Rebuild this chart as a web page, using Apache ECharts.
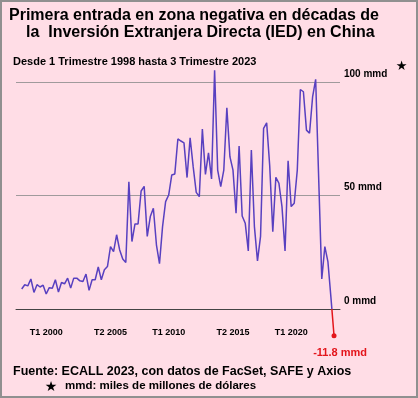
<!DOCTYPE html>
<html>
<head>
<meta charset="utf-8">
<script src="https://cdn.jsdelivr.net/npm/echarts@6/dist/echarts.min.js"></script>
<style>
html,body{margin:0;padding:0;background:#ffdde6;}
#wrap{position:relative;width:418px;height:398px;}
#chart{position:absolute;left:0;top:0;width:418px;height:398px;}
#frame{position:absolute;left:0;top:0;width:418px;height:398px;box-sizing:border-box;border:2px solid #909090;pointer-events:none;}
</style>
</head>
<body>
<div id="wrap"><div id="chart"></div><div id="frame"></div></div>
<script>
// Quarterly FDI into China (billions USD), Q1 1998 .. Q3 2023
const startYear = 1998;
const fdiValues = [
  8.8, 10.7, 10.2, 13.2, 7.3, 10.7, 9.7, 10.5, 6.6, 9.4,
  9.1, 12.9, 7.5, 11.7, 11.1, 13.6, 9.2, 13.6, 13.6, 12.4,
  12.1, 15.4, 8.2, 12.9, 12.9, 18.5, 12.9, 17.3, 18.7, 27.5,
  25.3, 32.7, 26.0, 22.0, 20.5, 56.0, 29.7, 37.5, 37.5, 52.0,
  54.0, 32.0, 40.7, 44.4, 28.3, 20.0, 36.3, 47.3, 50.2, 59.0,
  59.5, 74.9, 74.0, 73.2, 57.9, 75.4, 62.7, 51.4, 49.5, 79.3,
  59.3, 68.8, 57.3, 105.2, 61.2, 53.9, 61.2, 88.6, 67.1, 61.2,
  42.2, 71.8, 41.0, 37.8, 25.6, 70.0, 36.3, 21.2, 32.0, 79.6,
  82.0, 63.0, 34.1, 58.0, 55.4, 45.1, 25.6, 65.3, 45.1, 46.6,
  61.2, 96.7, 95.7, 78.8, 77.4, 93.4, 101.2, 57.0, 13.2, 27.5,
  20.9, 4.9, -11.8
];
const quarterLabels = fdiValues.map((v, i) => 'T' + (i % 4 + 1) + ' ' + (startYear + Math.floor(i / 4)));
const xTickLabels = ['T1 2000', 'T2 2005', 'T1 2010', 'T2 2015', 'T1 2020'];
const yTickValues = [0, 50, 100];
const unit = 'mmd';

const FONT = "'Liberation Sans', Arial, sans-serif";
const PURPLE = '#5840c0', RED = '#e3151b';
const lastIdx = fdiValues.length - 1;
const tickIdx = xTickLabels.map(l => quarterLabels.indexOf(l));
const seriesData = fdiValues.map((v, i) => i === lastIdx
  ? {value: [i, v], symbol: 'circle', symbolSize: 5, itemStyle: {color: RED},
     label: {show: true, formatter: p => p.value[1] + ' ' + unit,
             position: 'bottom', distance: 9, offset: [6, 0],
             color: RED, fontSize: 11, fontWeight: 'bold', fontFamily: FONT}}
  : [i, v]);

const chart = echarts.init(document.getElementById('chart'), null, {renderer: 'canvas'});
function txt(text, x, y, size, extra) {
  return {
    type: 'text', x: x, y: y, silent: true,
    style: Object.assign({
      text: text, fill: '#000', font: 'bold ' + size + 'px ' + FONT,
      textAlign: 'left', textVerticalAlign: 'middle', align: 'left', verticalAlign: 'middle'
    }, extra || {})
  };
}
const starStyle = size => ({textAlign: 'center', align: 'center',
  font: 'bold ' + size + 'px "DejaVu Sans", sans-serif'});
chart.setOption({
  backgroundColor: '#ffdde6',
  animation: false,
  grid: {left: 16, right: 78, top: 82, bottom: 89, containLabel: false},
  xAxis: {
    type: 'value', min: -1.86, max: 103.95,
    axisLine: {show: true, onZero: false, lineStyle: {color: '#444', width: 1}},
    axisTick: {show: false},
    splitLine: {show: false},
    axisLabel: {
      customValues: tickIdx,
      formatter: v => quarterLabels[Math.round(v)] || '',
      fontSize: 9, fontWeight: 'bold', color: '#000', fontFamily: FONT, margin: 19
    }
  },
  yAxis: {
    type: 'value', position: 'right', min: 0, max: 100, interval: 50,
    axisLine: {show: false}, axisTick: {show: false},
    splitLine: {show: true, lineStyle: {color: '#a09a9c', width: 1}},
    axisLabel: {
      formatter: v => yTickValues.indexOf(v) >= 0 ? v + ' ' + unit : '',
      fontSize: 10, fontWeight: 'bold', color: '#000', fontFamily: FONT,
      margin: 4, verticalAlign: 'bottom', padding: [0, 0, 3, 0]
    }
  },
  series: [{
    type: 'line', clip: false,
    data: seriesData,
    symbol: 'none',
    lineStyle: {width: 1.5, color: PURPLE}
  }],
  graphic: [
    txt('Primera entrada en zona negativa en décadas de', 9, 15.5, 16),
    txt('la  Inversión Extranjera Directa (IED) en China', 26, 33, 16),
    txt('Desde 1 Trimestre 1998 hasta 3 Trimestre 2023', 13, 61.5, 11),
    txt('★', 401.5, 66.5, 13, starStyle(13)),
    txt('Fuente: ECALL 2023, con datos de FacSet, SAFE y Axios', 13, 371.7, 12.5),
    txt('★', 51, 387.5, 14, starStyle(14)),
    txt('mmd: miles de millones de dólares', 65, 386, 11.5)
  ]
});
// colour the part of the line below zero red, using the axis' own pixel for 0
const y0 = chart.convertToPixel({yAxisIndex: 0}, 0);
chart.setOption({
  series: [{
    lineStyle: {
      color: new echarts.graphic.LinearGradient(0, y0, 0, y0 + 0.5,
        [{offset: 0, color: PURPLE}, {offset: 1, color: RED}], true)
    }
  }]
});
</script>
</body>
</html>
